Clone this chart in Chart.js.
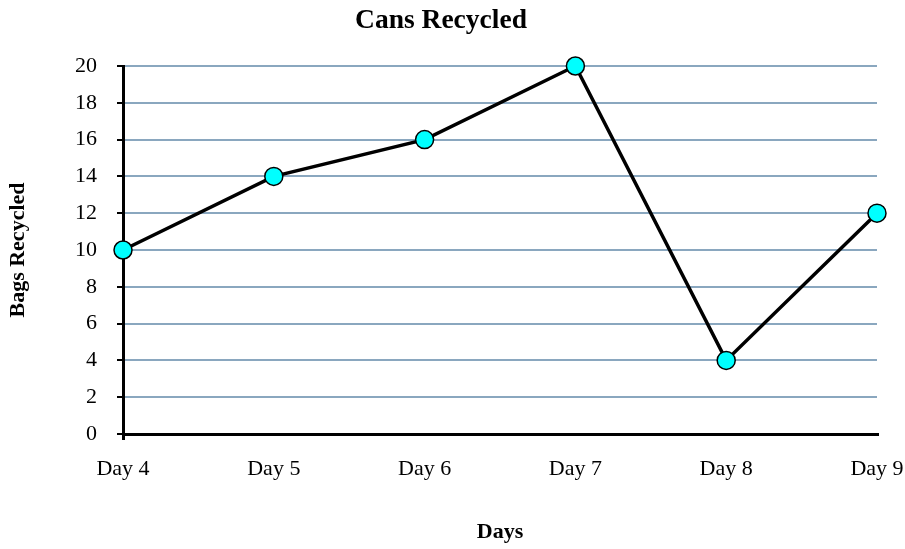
<!DOCTYPE html>
<html>
<head>
<meta charset="utf-8">
<script src="https://cdn.jsdelivr.net/npm/chart.js@4"></script>
<style>
  html, body { margin: 0; padding: 0; background: #fff; }
  #wrap { width: 905px; height: 549px; }
</style>
</head>
<body>
<div id="wrap"><canvas id="myChart" width="905" height="549"></canvas></div>
<script>
const days = ['Day 4', 'Day 5', 'Day 6', 'Day 7', 'Day 8', 'Day 9'];
const bagsRecycled = [10, 14, 16, 20, 4, 12];

const FONT = "'Liberation Serif', 'Times New Roman', serif";

const ctx = document.getElementById('myChart').getContext('2d');
new Chart(ctx, {
  type: 'line',
  data: {
    labels: days,
    datasets: [{
      label: 'Bags Recycled',
      data: bagsRecycled,
      borderColor: '#000',
      borderWidth: 3.5,
      pointRadius: 9,
      pointBackgroundColor: '#00ffff',
      pointBorderColor: '#000',
      pointBorderWidth: 1.5,
      tension: 0,
      clip: false
    }]
  },
  options: {
    responsive: false,
    animation: false,
    layout: { padding: { left: 5, right: 28, top: 4, bottom: 3 } },
    plugins: {
      legend: { display: false },
      tooltip: { enabled: false },
      title: {
        display: true,
        text: 'Cans Recycled',
        color: '#000',
        font: { family: FONT, size: 27.5, weight: 'bold' },
        padding: { top: 0, bottom: 29 }
      }
    },
    scales: {
      x: {
        offset: false,
        // fixed axis box so the plot area lines up with the original
        afterFit: (scale) => {
          scale.height = 112;
          scale.paddingLeft = 0;
          scale.paddingRight = 0;
        },
        grid: {
          display: true,
          drawOnChartArea: false,
          tickLength: 6,
          color: (c) => (c.index === 0 ? '#000' : 'rgba(0,0,0,0)'),
          lineWidth: 3
        },
        border: { display: true, color: '#000', width: 3 },
        ticks: { color: '#000', font: { family: FONT, size: 22 }, padding: 16, maxRotation: 0 },
        title: {
          display: true,
          text: 'Days',
          color: '#000',
          font: { family: FONT, size: 22, weight: 'bold' },
          padding: { top: 13, bottom: 0 }
        }
      },
      y: {
        min: 0,
        max: 20,
        afterFit: (scale) => {
          scale.width = 118;
        },
        grid: { color: '#8aa7bf', lineWidth: 2, tickColor: '#000', tickLength: 6 },
        border: { display: true, color: '#000', width: 3 },
        ticks: { stepSize: 2, color: '#000', font: { family: FONT, size: 22 }, padding: 20 },
        title: {
          display: true,
          text: 'Bags Recycled',
          color: '#000',
          font: { family: FONT, size: 22, weight: 'bold' },
          padding: { top: 0, bottom: 30 }
        }
      }
    }
  }
});
</script>
</body>
</html>
